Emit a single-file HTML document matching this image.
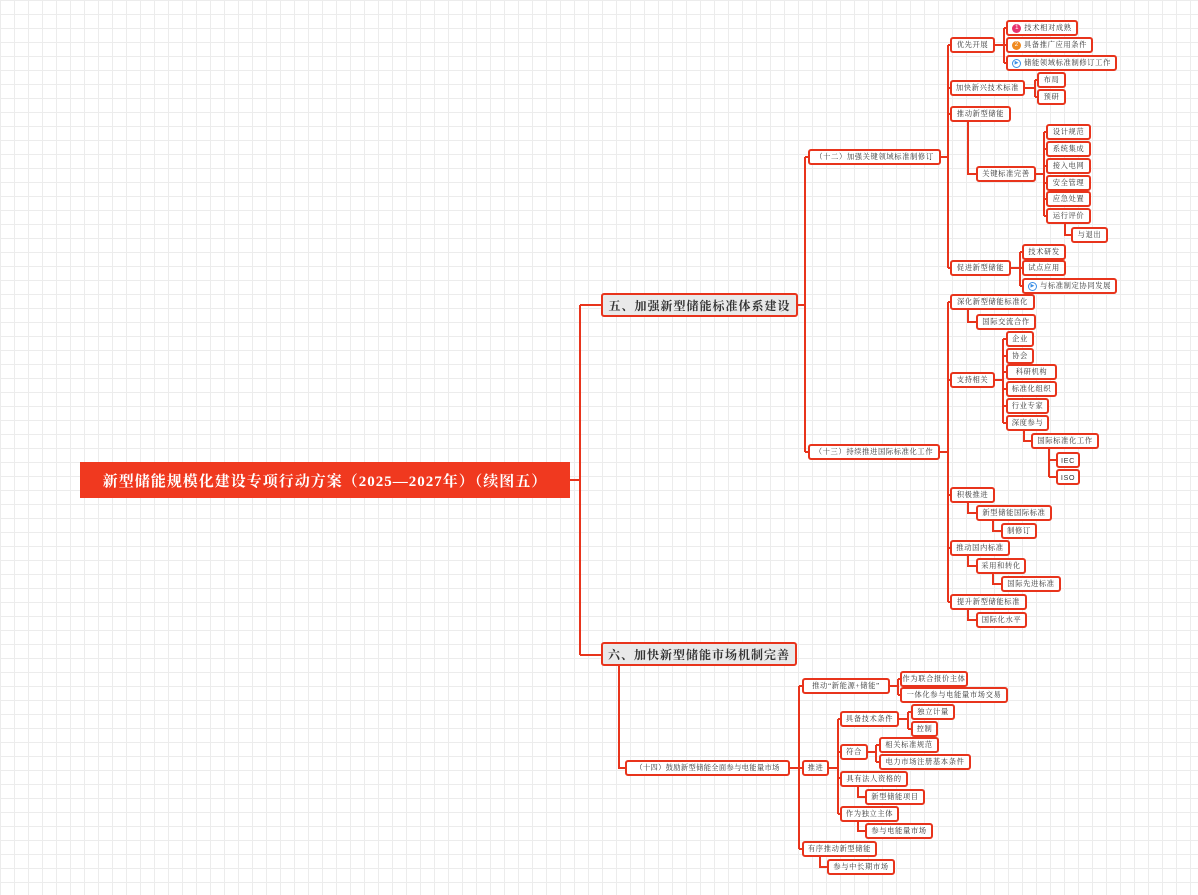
<!DOCTYPE html>
<html><head><meta charset="utf-8"><style>
body{margin:0;width:1198px;height:895px;overflow:hidden;background-color:#fff;
background-image:linear-gradient(#ececec 1px,transparent 1px),linear-gradient(90deg,#ececec 1px,transparent 1px);
background-size:14px 14px;font-family:"Liberation Serif","Noto Serif CJK SC",serif;position:relative}
.n{position:absolute;box-sizing:border-box;border:2px solid #e8341c;border-radius:3px;background:#fff;
font-size:7.3px;color:#333;display:flex;align-items:center;justify-content:center;white-space:nowrap;letter-spacing:0.6px;height:16px;overflow:hidden}
.l1{background:#e9e9e9;font-size:12px;font-weight:bold;color:#333;height:24px;letter-spacing:1px}
.root{position:absolute;left:80px;top:462px;width:490px;height:36px;background:#f0391f;color:#fff;font-size:15px;font-weight:bold;display:flex;align-items:center;justify-content:center;letter-spacing:1px}
.ic{display:inline-block;flex:none;width:9px;height:9px;border-radius:50%;color:#fff;font-size:6px;line-height:9px;text-align:center;margin-right:3px;letter-spacing:0;font-family:"Liberation Sans",sans-serif}
.pl{background:#fff;border:1px solid #3a8ee6;color:#3a8ee6;width:7px;height:7px;line-height:7px;font-size:5px}
svg{position:absolute;left:0;top:0}
</style></head><body>
<svg width="1198" height="895" fill="none" stroke="#e8341c" stroke-width="2">
<path d="M570 480H580M580 305V655M580 305H601M580 655H601"/>
<path d="M798 305H805M805 157V452M805 157H808M805 452H808"/>
<path d="M941 157H948M948 45V268M948 45H950M948 88H950M948 114H950M948 268H950"/>
<path d="M995 45H1004M1004 28V63M1004 28H1006M1004 45H1006M1004 63H1006"/>
<path d="M1025 88H1035M1035 80V97M1035 80H1037M1035 97H1037"/>
<path d="M968 121V174H976"/>
<path d="M1036 174H1044M1044 132V216M1044 132H1046M1044 149H1046M1044 166H1046M1044 183H1046M1044 199H1046M1044 216H1046"/>
<path d="M1065 223V235H1071"/>
<path d="M1011 268H1020M1020 252V286M1020 252H1022M1020 268H1022M1020 286H1022"/>
<path d="M940 452H948M948 302V602M948 302H950M948 380H950M948 495H950M948 548H950M948 602H950"/>
<path d="M968 310V322H976"/>
<path d="M995 380H1003M1003 339V423M1003 339H1006M1003 356H1006M1003 372H1006M1003 389H1006M1003 406H1006M1003 423H1006"/>
<path d="M1024 430V441H1031"/>
<path d="M1049 448V477M1049 460H1056M1049 477H1056"/>
<path d="M968 502V513H976M993 520V531H1001"/>
<path d="M968 555V566H976M993 573V584H1001"/>
<path d="M968 609V620H976"/>
<path d="M619 666V768H626"/>
<path d="M790 768H799M799 686V849M799 686H802M799 768H802M799 849H802"/>
<path d="M890 686H898M898 679V695M898 679H900M898 695H900"/>
<path d="M829 768H838M838 719V814M838 719H840M838 752H840M838 778H840M838 814H840"/>
<path d="M899 719H908M908 712V729M908 712H911M908 729H911"/>
<path d="M868 752H876M876 745V762M876 745H879M876 762H879"/>
<path d="M858 786V797H865M858 822V831H865M820 857V867H827"/>
</svg>
<div class="root">新型储能规模化建设专项行动方案（2025—2027年）（续图五）</div>
<div class="n l1" style="left:601px;top:293px;width:197px">五、加强新型储能标准体系建设</div>
<div class="n l1" style="left:601px;top:642px;width:196px">六、加快新型储能市场机制完善</div>

<div class="n" style="left:808px;top:149px;width:133px">（十二）加强关键领域标准制修订</div>
<div class="n" style="left:808px;top:444px;width:132px">（十三）持续推进国际标准化工作</div>
<div class="n" style="left:625px;top:760px;width:165px;letter-spacing:0.3px">（十四）鼓励新型储能全面参与电能量市场</div>

<div class="n" style="left:950px;top:37px;width:45px">优先开展</div>
<div class="n" style="left:1006px;top:20px;width:72px"><span class="ic" style="background:#e8336d">1</span>技术相对成熟</div>
<div class="n" style="left:1006px;top:37px;width:87px"><span class="ic" style="background:#f08a1f">2</span>具备推广应用条件</div>
<div class="n" style="left:1006px;top:55px;width:111px"><span class="ic pl">▶</span>储能领域标准制修订工作</div>
<div class="n" style="left:950px;top:80px;width:75px">加快新兴技术标准</div>
<div class="n" style="left:1037px;top:72px;width:29px">布局</div>
<div class="n" style="left:1037px;top:89px;width:29px">预研</div>
<div class="n" style="left:950px;top:106px;width:61px">推动新型储能</div>
<div class="n" style="left:976px;top:166px;width:60px">关键标准完善</div>
<div class="n" style="left:1046px;top:124px;width:45px">设计规范</div>
<div class="n" style="left:1046px;top:141px;width:45px">系统集成</div>
<div class="n" style="left:1046px;top:158px;width:45px">接入电网</div>
<div class="n" style="left:1046px;top:175px;width:45px">安全管理</div>
<div class="n" style="left:1046px;top:191px;width:45px">应急处置</div>
<div class="n" style="left:1046px;top:208px;width:45px">运行评价</div>
<div class="n" style="left:1071px;top:227px;width:37px">与退出</div>
<div class="n" style="left:950px;top:260px;width:61px">促进新型储能</div>
<div class="n" style="left:1022px;top:244px;width:44px">技术研发</div>
<div class="n" style="left:1022px;top:260px;width:44px">试点应用</div>
<div class="n" style="left:1022px;top:278px;width:95px"><span class="ic pl">▶</span>与标准制定协同发展</div>

<div class="n" style="left:950px;top:294px;width:85px">深化新型储能标准化</div>
<div class="n" style="left:976px;top:314px;width:60px">国际交流合作</div>
<div class="n" style="left:950px;top:372px;width:45px">支持相关</div>
<div class="n" style="left:1006px;top:331px;width:28px">企业</div>
<div class="n" style="left:1006px;top:348px;width:28px">协会</div>
<div class="n" style="left:1006px;top:364px;width:51px">科研机构</div>
<div class="n" style="left:1006px;top:381px;width:51px">标准化组织</div>
<div class="n" style="left:1006px;top:398px;width:43px">行业专家</div>
<div class="n" style="left:1006px;top:415px;width:43px">深度参与</div>
<div class="n" style="left:1031px;top:433px;width:68px">国际标准化工作</div>
<div class="n" style="left:1056px;top:452px;width:24px;font-family:'Liberation Sans',sans-serif">IEC</div>
<div class="n" style="left:1056px;top:469px;width:24px;font-family:'Liberation Sans',sans-serif">ISO</div>
<div class="n" style="left:950px;top:487px;width:45px">积极推进</div>
<div class="n" style="left:976px;top:505px;width:76px">新型储能国际标准</div>
<div class="n" style="left:1001px;top:523px;width:36px">制修订</div>
<div class="n" style="left:950px;top:540px;width:60px">推动国内标准</div>
<div class="n" style="left:976px;top:558px;width:50px">采用和转化</div>
<div class="n" style="left:1001px;top:576px;width:60px">国际先进标准</div>
<div class="n" style="left:950px;top:594px;width:77px">提升新型储能标准</div>
<div class="n" style="left:976px;top:612px;width:51px">国际化水平</div>

<div class="n" style="left:802px;top:678px;width:88px">推动“新能源+储能”</div>
<div class="n" style="left:900px;top:671px;width:68px">作为联合报价主体</div>
<div class="n" style="left:900px;top:687px;width:108px">一体化参与电能量市场交易</div>
<div class="n" style="left:802px;top:760px;width:27px">推进</div>
<div class="n" style="left:840px;top:711px;width:59px">具备技术条件</div>
<div class="n" style="left:911px;top:704px;width:44px">独立计量</div>
<div class="n" style="left:911px;top:721px;width:27px">控制</div>
<div class="n" style="left:840px;top:744px;width:28px">符合</div>
<div class="n" style="left:879px;top:737px;width:60px">相关标准规范</div>
<div class="n" style="left:879px;top:754px;width:92px">电力市场注册基本条件</div>
<div class="n" style="left:840px;top:771px;width:68px">具有法人资格的</div>
<div class="n" style="left:865px;top:789px;width:60px">新型储能项目</div>
<div class="n" style="left:840px;top:806px;width:59px">作为独立主体</div>
<div class="n" style="left:865px;top:823px;width:68px">参与电能量市场</div>
<div class="n" style="left:802px;top:841px;width:75px">有序推动新型储能</div>
<div class="n" style="left:827px;top:859px;width:68px">参与中长期市场</div>
</body></html>
